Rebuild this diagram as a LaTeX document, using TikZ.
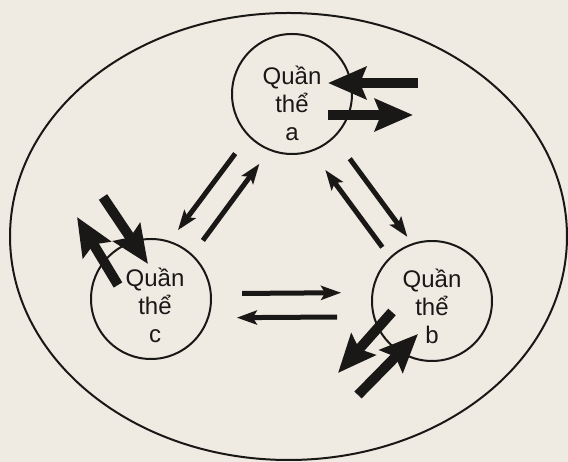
\documentclass[tikz,border=0pt]{standalone}
\usepackage{fontspec}
\setmainfont{Liberation Sans}
\usepackage{tikz}
\usetikzlibrary{arrows.meta,calc}
\definecolor{paper}{HTML}{EFEBE3}
\definecolor{ink}{HTML}{1A1816}
\tikzset{
  popn/.style   = {circle,draw=ink,line width=2pt,minimum size=120pt,
                   inner sep=0pt},
  poptxt/.style = {align=center,font=\fontsize{24}{28}\selectfont,text=ink,
                   inner sep=0pt},
  migr/.style   = {-{Stealth[length=20pt,width=14pt,inset=4pt]},
                   line width=5pt,draw=ink},
  exch/.style   = {-{Stealth[length=38pt,width=32pt,inset=6pt]},
                   line width=10pt,draw=ink},
}

\begin{document}
\begin{tikzpicture}[x=1pt,y=1pt]
  \fill[paper] (0,0) rectangle (568,462);
  \useasboundingbox (0,0) rectangle (568,462);
  % habitat boundary
  \draw[ink,line width=2pt] (288.5,225.5) ellipse [x radius=278.5,y radius=223.5];

  % the three populations
  \node[popn] (pa) at (292,368) {};
  \node[popn] (pb) at (432,161) {};
  \node[popn] (pc) at (151,163) {};
  \node[poptxt] (ta) at ([yshift=-9pt]pa) {Quần\\thể\\a};
  \node[poptxt] (tb) at ([yshift=-5pt]pb) {Quần\\thể\\b};
  \node[poptxt] (tc) at ([shift={(4,-6)}]pc) {Quần\\thể\\c};

  % exchange between populations
  \draw[migr,shorten <=21.5pt,shorten >=13.5pt] (pa.224.3) -- (pc.72.7);
  \draw[migr,shorten <=17.3pt,shorten >=16.5pt] (pc.47.3) -- (pa.248.4);
  \draw[migr,shorten <=12.3pt,shorten >=22.7pt] (pb.134.1) -- (pa.289.1);
  \draw[migr,shorten <=25.9pt,shorten >=8pt] (pa.314.2) -- (pb.109.8);
  \draw[migr,shorten <=30.3pt,shorten >=30.5pt] (pc.5.7) -- (pb.172.3);
  \draw[migr,shorten <=36pt,shorten >=27.8pt] (pb.195.5) -- (pc.342.5);

  % immigration / emigration
  \coordinate (ina) at (418,379);
  \coordinate (outa) at (413,347);
  \coordinate (inc) at (103,265);
  \coordinate (outc) at (77,245);
  \coordinate (outb) at (338,89);
  \coordinate (inb) at (358,67);
  \draw[exch] (ina) -- ([shift={(36,11)}]pa.center);
  \draw[exch] ([shift={(36,-21)}]pa.center) -- (outa);
  \draw[exch] ([shift={(-33,14)}]pc.center) -- (outc);
  \draw[exch] (inc) -- ([shift={(-3,35)}]pc.center);
  \draw[exch] ([shift={(-40,-11)}]pb.center) -- (outb);
  \draw[exch] (inb) -- ([shift={(-14,-33)}]pb.center);
\end{tikzpicture}
\end{document}
